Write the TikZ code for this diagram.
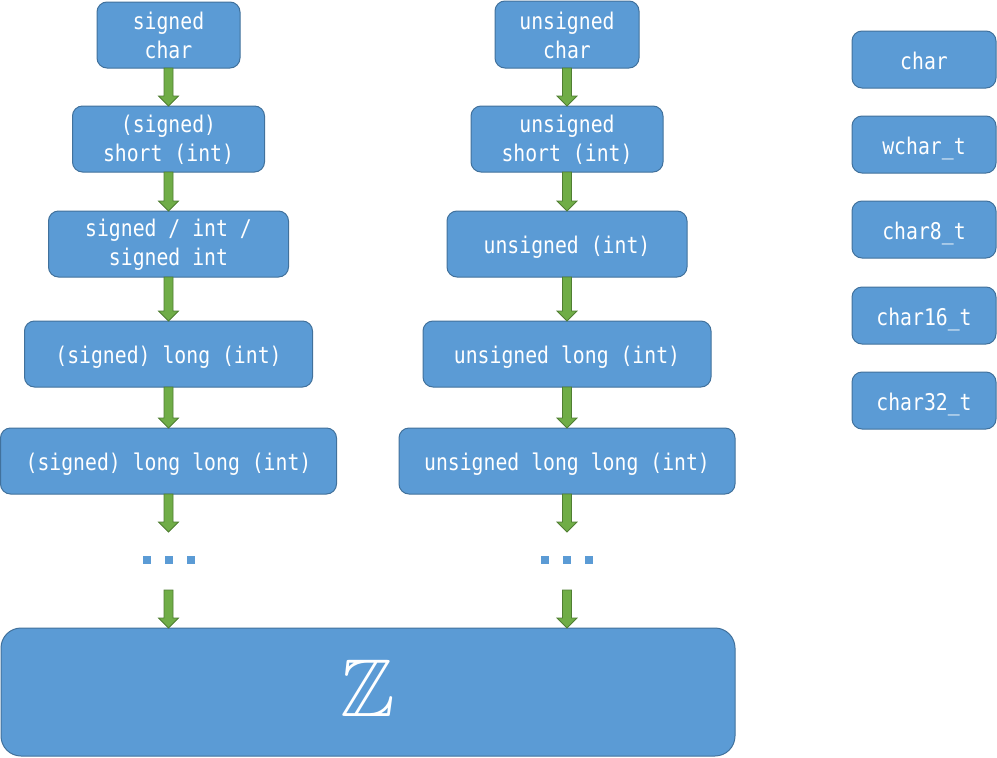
\documentclass[tikz,border=0pt]{standalone}
\usepackage{fontspec}
\setmonofont[FakeStretch=0.86]{DejaVu Sans Mono}
\usepackage{amssymb}
\usetikzlibrary{calc}
\definecolor{boxfill}{HTML}{5B9BD5}
\definecolor{boxline}{HTML}{41719C}
\definecolor{arrfill}{HTML}{70AD47}
\definecolor{arrline}{HTML}{507E32}
\tikzset{
  tbox/.style={draw=boxline, fill=boxfill, rounded corners=10pt, line width=1pt,
    inner sep=0pt, outer sep=0pt},
  ttext/.style={text=white, align=center, inner sep=0pt,
    font=\ttfamily\fontsize{23}{29}\selectfont},
  oneline/.style={ttext, text height=17pt, text depth=4pt},
  dotsq/.style={fill=boxfill},
  garr/.style={fill=arrfill, draw=arrline, line width=0.8pt, line join=miter}
}
\newcommand\garrow[2]{%
  \filldraw[garr] ($(#1)+(-4.5,0)$) -- ($(#2)+(-4.5,-10)$) -- ($(#2)+(-10,-10)$)
    -- (#2) -- ($(#2)+(10,-10)$) -- ($(#2)+(4.5,-10)$) -- ($(#1)+(4.5,0)$) -- cycle;}
% two-line box
\newcommand\tb[5]{% name, width, height, position, text
  \node[tbox, minimum width=#2pt, minimum height=#3pt] (#1) at (#4) {};
  \node[ttext] (#1t) at ($(#1)+(0,0.5)$) {#5};}
% one-line box
\newcommand\ob[5]{% name, width, height, position, text
  \node[tbox, minimum width=#2pt, minimum height=#3pt] (#1) at (#4) {};
  \node[oneline] (#1t) at ($(#1)+(0,3)$) {#5};}
\begin{document}
\begin{tikzpicture}[x=1pt,y=-1pt]
\useasboundingbox (0,0) rectangle (997,758);
% left column
\tb{s1}{143}{66}{168.5,35}{signed\\char}
\tb{s2}{192}{66}{168.5,139}{(signed)\\short (int)}
\tb{s3}{240}{66}{168.5,244}{signed / int /\\signed int}
\ob{s4}{288}{66}{168.5,354}{(signed) long (int)}
\ob{s5}{336}{66}{168.5,461}{(signed) long long (int)}
% right column
\tb{u1}{144}{67}{567,34.5}{unsigned\\char}
\tb{u2}{192}{66}{567,139}{unsigned\\short (int)}
\ob{u3}{240}{66}{567,244}{unsigned (int)}
\ob{u4}{288}{66}{567,354}{unsigned long (int)}
\ob{u5}{336}{66}{567,461}{unsigned long long (int)}
% char types
\ob{c1}{144}{57}{924,59.5}{char}
\ob{c2}{144}{57}{924,144.5}{wchar\_t}
\ob{c3}{144}{57}{924,229.5}{char8\_t}
\ob{c4}{144}{57}{924,315.5}{char16\_t}
\ob{c5}{144}{57}{924,400.5}{char32\_t}
% Z box
\node[tbox, rounded corners=20pt, minimum width=734pt, minimum height=128pt] (Z) at (368,692) {};
\node[text=white, inner sep=0pt, font=\fontsize{82}{90}\selectfont] (Zt) at (368,688) {$\mathbb{Z}$};
% dots
\foreach \x in {147,169,191} \fill[dotsq] (\x-4,556) rectangle (\x+4,564);
\foreach \x in {545,567,589} \fill[dotsq] (\x-4,556) rectangle (\x+4,564);
\coordinate (ls) at (168.5,532);
\coordinate (lt) at (168.5,590);
\coordinate (rs) at (567,532);
\coordinate (rt) at (567,590);
% arrows
\garrow{s1.south}{s2.north}
\garrow{s2.south}{s3.north}
\garrow{s3.south}{s4.north}
\garrow{s4.south}{s5.north}
\garrow{s5.south}{ls}
\garrow{lt}{Z.north -| lt}
\garrow{u1.south}{u2.north}
\garrow{u2.south}{u3.north}
\garrow{u3.south}{u4.north}
\garrow{u4.south}{u5.north}
\garrow{u5.south}{rs}
\garrow{rt}{Z.north -| rt}
\end{tikzpicture}
\end{document}
